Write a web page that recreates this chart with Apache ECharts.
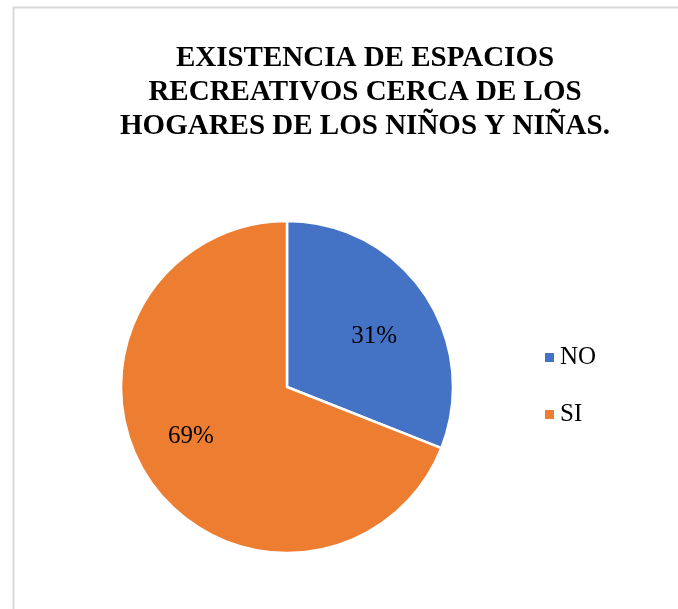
<!DOCTYPE html>
<html>
<head>
<meta charset="utf-8">
<script src="https://cdn.jsdelivr.net/npm/echarts@6/dist/echarts.min.js"></script>
<style>html,body{margin:0;padding:0;background:#fff;}#c{width:678px;height:609px;}</style>
</head>
<body>
<div id="c"></div>
<script>
const titleText = 'EXISTENCIA DE ESPACIOS\nRECREATIVOS CERCA DE LOS\nHOGARES DE LOS NIÑOS Y NIÑAS.';
const categories = ['NO', 'SI'];
const values = [31, 69];
const colors = ['#4472C4', '#ED7D31'];

const labelOffsets = [[16, -2], [-25, 1]];
const chart = echarts.init(document.getElementById('c'));
const font = '"Liberation Serif", "Times New Roman", serif';
chart.setOption({
  animation: false,
  graphic: [{
    type: 'rect', left: 11, top: 5,
    shape: { width: 700, height: 640 },
    style: { fill: 'none', stroke: '#d9d9d9', lineWidth: 2 },
    silent: true
  }],
  title: {
    text: titleText,
    left: 360, top: 37, textAlign: 'center',
    textStyle: { fontFamily: font, fontWeight: 'bold', fontSize: 29, lineHeight: 34, color: '#000' }
  },
  legend: {
    orient: 'vertical', left: 538, top: 340,
    itemWidth: 11, itemHeight: 11, itemGap: 32, icon: 'rect',
    textStyle: { fontFamily: font, fontSize: 25, color: '#000' },
    data: categories
  },
  series: [{
    type: 'pie',
    center: [287, 387], radius: [0, 166],
    startAngle: 90, clockwise: true,
    itemStyle: { borderColor: '#fff', borderWidth: 2.5 },
    label: {
      position: 'inside', formatter: '{d}%',
      fontFamily: font, fontSize: 25, color: '#000'
    },
    labelLine: { show: false },
    emphasis: { disabled: true },
    data: categories.map((c, i) => ({
      name: c, value: values[i],
      itemStyle: { color: colors[i] },
      label: { offset: labelOffsets[i] }
    }))
  }]
});
</script>
</body>
</html>
